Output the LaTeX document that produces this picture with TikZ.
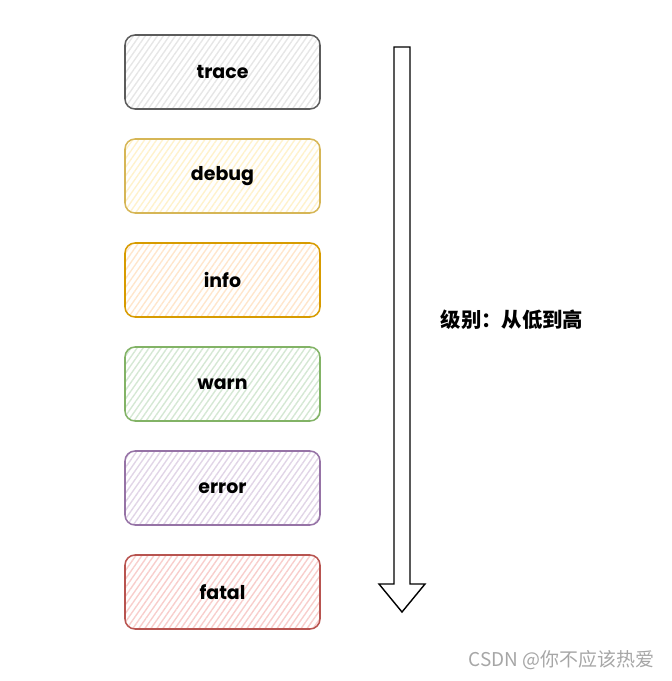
\documentclass[tikz,border=0pt]{standalone}
\usepackage{fontspec}
\usepackage{xcolor}
\usepackage{tikz}
\usetikzlibrary{positioning,patterns.meta}

\setmainfont{Poppins}
\newfontfamily\cjk{Noto Sans CJK SC}

\definecolor{traceline}{HTML}{5C5C5C}
\definecolor{tracefill}{HTML}{E6E6E6}
\definecolor{debugline}{HTML}{D6B656}
\definecolor{debugfill}{HTML}{FFF2CC}
\definecolor{infoline}{HTML}{D79B00}
\definecolor{infofill}{HTML}{FFE6CC}
\definecolor{warnline}{HTML}{82B366}
\definecolor{warnfill}{HTML}{D5E8D4}
\definecolor{errorline}{HTML}{9673A6}
\definecolor{errorfill}{HTML}{E1D5E7}
\definecolor{fatalline}{HTML}{B85450}
\definecolor{fatalfill}{HTML}{F8CECC}

\begin{document}
\begin{tikzpicture}[node distance=2.6cm, auto, >=latex, thick]
    \tikzstyle{level} = [draw, rounded corners=0.25cm, line width=1.1pt,
        minimum width=4.875cm, minimum height=1.85cm,
        font=\bfseries\fontsize{13.5}{16}\selectfont,
        pattern={Lines[angle=55, distance=3.5pt, line width=1pt]}]

    \useasboundingbox (0,0) rectangle (16.8,-17.025);

    \node [level, draw=traceline, pattern color=tracefill] (trace) at (5.5625,-1.8) {trace};
    \node [level, draw=debugline, pattern color=debugfill, below of=trace] (debug) {debug};
    \node [level, draw=infoline, pattern color=infofill, below of=debug] (info) {info};
    \node [level, draw=warnline, pattern color=warnfill, below of=info] (warn) {warn};
    \node [level, draw=errorline, pattern color=errorfill, below of=warn] (error) {error};
    \node [level, draw=fatalline, pattern color=fatalfill, below of=error] (fatal) {fatal};

    % hollow arrow, low to high
    \draw [line width=1pt, line join=miter]
        (9.85,-1.175) -- (10.25,-1.175) -- (10.25,-14.6) -- (10.625,-14.6)
        -- (10.05,-15.3) -- (9.475,-14.6) -- (9.85,-14.6) -- cycle;
    \node [font=\cjk\bfseries\fontsize{14.5}{17}\selectfont] (order) at (12.8,-8.0) {级别：从低到高};

    \node [anchor=east, text=gray!70, font=\cjk\fontsize{13.5}{16}\selectfont] (mark) at (16.5,-16.5) {CSDN @你不应该热爱};
\end{tikzpicture}
\end{document}
